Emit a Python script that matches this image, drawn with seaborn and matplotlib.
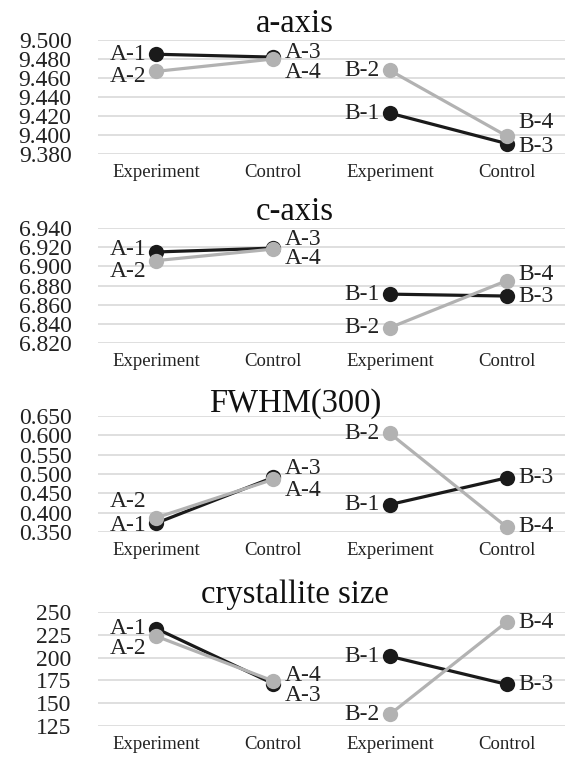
import matplotlib
matplotlib.use("Agg")
import matplotlib.pyplot as plt
import seaborn as sns
import pandas as pd

# x categories (two groups: A = first pair, B = second pair)
categories = ["Experiment", "Control", "Experiment", "Control"]
groups = ["A", "A", "B", "B"]
black_labels = ["A-1", "A-3", "B-1", "B-3"]
grey_labels = ["A-2", "A-4", "B-2", "B-4"]
titles = ["a-axis", "c-axis", "FWHM(300)", "crystallite size"]

# values
a_black = [9.485, 9.482, 9.423, 9.391]
a_grey = [9.467, 9.480, 9.468, 9.399]
c_black = [6.915, 6.919, 6.871, 6.869]
c_grey = [6.906, 6.918, 6.836, 6.885]
fwhm_black = [0.373, 0.491, 0.421, 0.490]
fwhm_grey = [0.387, 0.486, 0.605, 0.363]
size_black = [231.8, 171.5, 201.4, 170.7]
size_grey = [223.4, 174.4, 137.8, 239.0]

a_ticks = [9.380, 9.400, 9.420, 9.440, 9.460, 9.480, 9.500]
c_ticks = [6.820, 6.840, 6.860, 6.880, 6.900, 6.920, 6.940]
fwhm_ticks = [0.350, 0.400, 0.450, 0.500, 0.550, 0.600, 0.650]
size_ticks = [125, 150, 175, 200, 225, 250]

panels = [
    (a_black, a_grey, a_ticks, "{:.3f}"),
    (c_black, c_grey, c_ticks, "{:.3f}"),
    (fwhm_black, fwhm_grey, fwhm_ticks, "{:.3f}"),
    (size_black, size_grey, size_ticks, "{:.0f}"),
]

# vertical nudges of the data labels, in pixels (up is positive)
label_nudge = [
    {"A-2": -5, "A-3": 5, "A-4": -14, "B-4": 13, "B-3": -3},
    {"A-1": 2, "A-2": -11, "A-3": 9, "A-4": -9, "B-4": 6},
    {"A-2": 16, "A-1": -2, "A-3": 9, "A-4": -11},
    {"A-2": -12, "A-4": 5, "A-3": -12},
]

# layout in pixels: (top, bottom) of each plot area, title baseline
W, H = 566, 759
areas = [(40, 154), (228, 343), (416, 532), (612, 726)]
title_base = [32, 220, 412, 603]

BLACK = "#1a1a1a"
GREY = "#b2b2b2"

sns.set_theme(style="white")
plt.rcParams["font.family"] = ["Liberation Serif", "DejaVu Serif"]

fig = plt.figure(figsize=(W / 100, H / 100), dpi=100)
px = 0.72  # points per pixel

for k, (blk, gry, ticks, fmt) in enumerate(panels):
    top, bot = areas[k]
    ax = fig.add_axes([98 / W, 1 - bot / H, (565 - 98) / W, (bot - top) / H])

    rows = []
    for i in range(len(categories)):
        rows.append({"pos": i, "value": blk[i], "line": groups[i] + " black", "label": black_labels[i]})
        rows.append({"pos": i, "value": gry[i], "line": groups[i] + " grey", "label": grey_labels[i]})
    df = pd.DataFrame(rows)

    sns.lineplot(data=df, x="pos", y="value", hue="line",
                 hue_order=["A black", "B black", "A grey", "B grey"],
                 palette={"A black": BLACK, "B black": BLACK, "A grey": GREY, "B grey": GREY},
                 marker="o", markersize=11, markeredgewidth=0, linewidth=2.3,
                 sort=False, legend=False, ax=ax, clip_on=False, zorder=3)

    for _, r in df.iterrows():
        left = r["pos"] % 2 == 0
        dy = label_nudge[k].get(r["label"], 0) * px
        ax.annotate(r["label"], (r["pos"], r["value"]),
                    xytext=(-10 * px if left else 12 * px, dy), textcoords="offset points",
                    ha="right" if left else "left", va="center", fontsize=17, color="#222222")

    ax.set_xlim(-0.5, 3.5)
    ax.set_ylim(ticks[0], ticks[-1])
    ax.set_yticks(ticks)
    ax.set_yticklabels([fmt.format(t) for t in ticks], fontsize=17, color="#222222")
    ax.set_xticks(range(len(categories)))
    ax.set_xticklabels(categories, fontsize=13.5, color="#222222")
    ax.tick_params(axis="y", length=0, pad=19)
    ax.tick_params(axis="x", length=0, pad=7.5)
    ax.set_xlabel("")
    ax.set_ylabel("")
    ax.grid(axis="y", color="#d9d9d9", linewidth=1.2)
    ax.set_axisbelow(True)
    for s in ax.spines.values():
        s.set_visible(False)

    fig.text(295 / W, 1 - title_base[k] / H, titles[k], ha="center", va="baseline",
             fontsize=23.5, color="#111111")

fig.savefig("out.png", dpi=100)
